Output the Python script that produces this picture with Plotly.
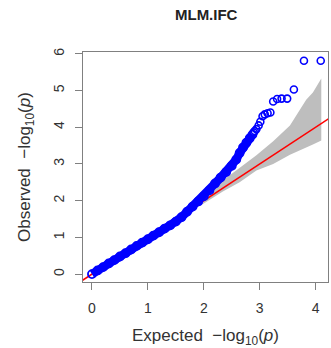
import plotly.graph_objects as go

# Dense body of the QQ curve: expected vs observed -log10(p)
body_expected = [0.00, 0.10, 0.20, 0.30, 0.40, 0.50, 0.60, 0.70, 0.80, 0.90,
                 1.00, 1.10, 1.20, 1.30, 1.40, 1.50, 1.60, 1.70, 1.80, 1.90,
                 2.00, 2.10, 2.20, 2.30, 2.40, 2.50, 2.58, 2.64, 2.70, 2.76,
                 2.82, 2.87]
body_observed = [0.00, 0.10, 0.19, 0.29, 0.38, 0.48, 0.57, 0.67, 0.77, 0.86,
                 0.95, 1.05, 1.14, 1.24, 1.33, 1.43, 1.55, 1.70, 1.84, 1.98,
                 2.12, 2.28, 2.47, 2.63, 2.78, 2.95, 3.12, 3.30, 3.45, 3.58,
                 3.70, 3.80]

# Sparse upper tail (individual SNPs)
tail_expected = [2.89, 2.91, 2.94, 2.98, 3.01, 3.05, 3.09, 3.14, 3.19, 3.24,
                 3.31, 3.39, 3.49, 3.61, 3.79, 4.09]
tail_observed = [3.86, 3.90, 3.95, 4.05, 4.15, 4.30, 4.35, 4.38, 4.40, 4.70,
                 4.77, 4.78, 4.78, 5.03, 5.81, 5.81]

# Confidence band around the null expectation
band_x = [1.80, 2.00, 2.34, 2.64, 2.94, 3.24, 3.54, 3.83, 3.95, 4.10]
band_upper = [1.85, 2.08, 2.55, 2.90, 3.24, 3.62, 4.05, 4.75, 4.95, 5.33]
band_lower = [1.75, 1.92, 2.25, 2.50, 2.82, 3.00, 3.25, 3.45, 3.53, 3.64]

x_ticks = [0, 1, 2, 3, 4]
y_ticks = [0, 1, 2, 3, 4, 5, 6]

BLUE = "#0000FF"
AXIS_GRAY = "#808080"
FONT = "Liberation Sans, Arial, sans-serif"

fig = go.Figure()

# gray confidence band
fig.add_trace(go.Scatter(
    x=band_x + band_x[::-1],
    y=band_upper + band_lower[::-1],
    fill="toself", fillcolor="#BEBEBE",
    line=dict(width=0), mode="lines", hoverinfo="skip", showlegend=False,
))

# y = x reference line
fig.add_trace(go.Scatter(
    x=[-1, 7], y=[-1, 7], mode="lines",
    line=dict(color="#FF0000", width=1.5), showlegend=False,
))

# dense body drawn as overlapping open circles
fig.add_trace(go.Scatter(
    x=body_expected, y=body_observed, mode="lines+markers",
    line=dict(color=BLUE, width=8.5),
    marker=dict(symbol="circle-open", size=8, color=BLUE, line=dict(width=1.8)),
    showlegend=False,
))

# individual tail points
fig.add_trace(go.Scatter(
    x=tail_expected, y=tail_observed, mode="markers",
    marker=dict(symbol="circle-open", size=7, color=BLUE, line=dict(width=1.6)),
    showlegend=False,
))

axis_common = dict(
    showline=True, linecolor=AXIS_GRAY, linewidth=1, mirror=True,
    ticks="outside", ticklen=7, tickcolor=AXIS_GRAY, tickwidth=1,
    showgrid=False, zeroline=False,
    tickfont=dict(family=FONT, size=14, color="#333333"),
)

fig.update_layout(
    width=331, height=348,
    margin=dict(l=83, r=2, t=52, b=63),
    paper_bgcolor="white", plot_bgcolor="white",
    title=dict(
        text="<b>MLM.IFC</b>", x=0.623, xanchor="center", y=0.957, yanchor="middle",
        font=dict(family=FONT, size=15, color="#222222"),
    ),
    xaxis=dict(
        range=[-0.16, 4.22], tickvals=x_ticks, ticktext=[str(v) for v in x_ticks],
        ticklabelstandoff=6,
        title=dict(text="Expected  \u2212log<sub>10</sub>(<i>p</i>)", standoff=18,
                   font=dict(family=FONT, size=17, color="#333333")),
        **axis_common,
    ),
    yaxis=dict(
        range=[-0.215, 6.05], tickvals=y_ticks, ticktext=[str(v) for v in y_ticks],
        tickangle=-90, ticklabelstandoff=5,
        title=dict(text="Observed  \u2212log<sub>10</sub>(<i>p</i>)", standoff=16,
                   font=dict(family=FONT, size=17, color="#333333")),
        **axis_common,
    ),
)

fig.write_html("out.html")
